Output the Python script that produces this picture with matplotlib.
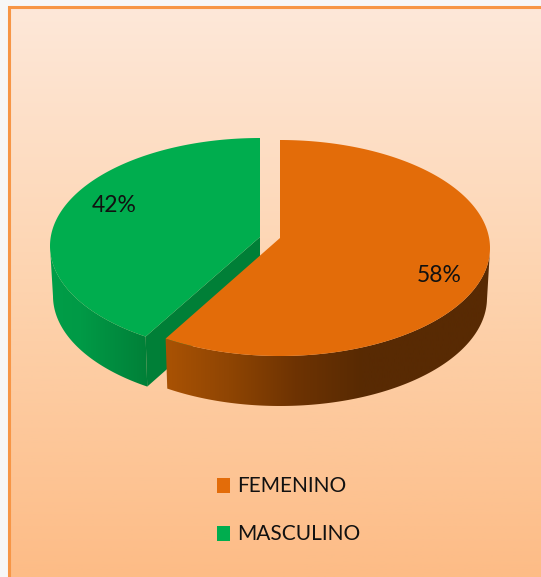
"""Exploded 3D style pie of respondents by sex."""

import matplotlib

matplotlib.use("Agg")
import matplotlib.pyplot as plt
import numpy as np
from matplotlib.colors import LinearSegmentedColormap
from matplotlib.patches import Polygon, Rectangle

categories = ["FEMENINO", "MASCULINO"]
shares = [58, 42]
share_labels = ["58%", "42%"]
top_colors = ["#E36C09", "#00AD4E"]

W, H = 541, 577
RX, RY = 210, 108
DEPTH = 50
TILT = np.radians(4.2)  # perspective pushes the slice edges round a little

plt.rcParams["font.family"] = ["Lato", "DejaVu Sans"]

fig = plt.figure(figsize=(W / 100, H / 100), dpi=100, facecolor="#F7F7F7")
ax = fig.add_axes([0, 0, 1, 1])
ax.set_xlim(0, W)
ax.set_ylim(H, 0)
ax.axis("off")

bg_cmap = LinearSegmentedColormap.from_list("bg", ["#FEE8D9", "#FDD3AE", "#FDBC86"])
ax.imshow(np.linspace(0, 1, 256)[:, None], extent=(9, W, H, 7), aspect="auto", cmap=bg_cmap, zorder=0)
ax.plot([8.5, 8.5, W], [H, 6.5, 6.5], color="#F79646", lw=2.2, solid_joinstyle="miter", zorder=1)


def rim(cx, cy, t, rx=RX):
    # t is the clockwise angle from twelve o'clock
    return np.column_stack([cx + rx * np.sin(t), cy - RY * np.cos(t)])


def side_wall(cx, cy, t, stops, zorder):
    top = rim(cx, cy, t)
    low = rim(cx, cy, t, RX - 3) + [0, DEPTH]
    clip = Polygon(np.vstack([top, low[::-1]]), closed=True, fc="none", ec="none")
    ax.add_patch(clip)
    cmap = LinearSegmentedColormap.from_list("wall", stops)
    x0, x1 = top[:, 0].min() - 4, top[:, 0].max() + 4
    img = ax.imshow(np.linspace(0, 1, 256)[None, :], extent=(x0, x1, H, 0), aspect="auto", cmap=cmap, zorder=zorder)
    img.set_clip_path(clip)


fractions = np.array(shares) / sum(shares)

# masculino slice: apex pulled to the left of the femenino one
gx, gy, g_apex = 260, 246, (260, 237)
g_t = np.linspace(2 * np.pi * (1 - fractions[1]) + TILT, 2 * np.pi, 200)
g_arc = rim(gx, gy, g_t)
g_low = rim(gx, gy, g_t[:1], RX - 3)[0] + [0, DEPTH]
ax.add_patch(Polygon([g_apex, g_arc[0], g_low, (g_apex[0], g_apex[1] + DEPTH)], fc="#007F37", ec="none", zorder=2))
side_wall(gx, gy, g_t[g_t <= 1.5 * np.pi], ["#009E48", "#009A46", "#008C3F", "#007F37"], 2)
ax.add_patch(Polygon(np.vstack([[g_apex], g_arc]), fc=top_colors[1], ec="none", zorder=3))

# femenino slice
fx, fy, f_apex = 280, 248, (280, 238)
f_t = np.linspace(0, 2 * np.pi * fractions[0] + TILT, 200)
f_arc = rim(fx, fy, f_t)
side_wall(fx, fy, f_t[f_t >= 0.5 * np.pi], ["#AB5304", "#8F4503", "#6E3302", "#582A03", "#582A03", "#582A03"], 4)
ax.add_patch(Polygon(np.vstack([[f_apex], f_arc]), fc=top_colors[0], ec="none", zorder=5))

ax.text(114, 205, share_labels[1], ha="center", va="center", fontsize=16.5, color="#111111", zorder=6)
ax.text(439, 276, share_labels[0], ha="center", va="center", fontsize=16.5, color="#111111", zorder=6)

for name, color, y in zip(categories, top_colors, [485.5, 533.5]):
    ax.add_patch(Rectangle((217, y - 7.5), 13, 15, fc=color, ec="none", zorder=6))
    ax.text(237, y, name, ha="left", va="center", fontsize=15, color="#111111", zorder=6)

fig.savefig("out.png", dpi=100)
plt.close(fig)
